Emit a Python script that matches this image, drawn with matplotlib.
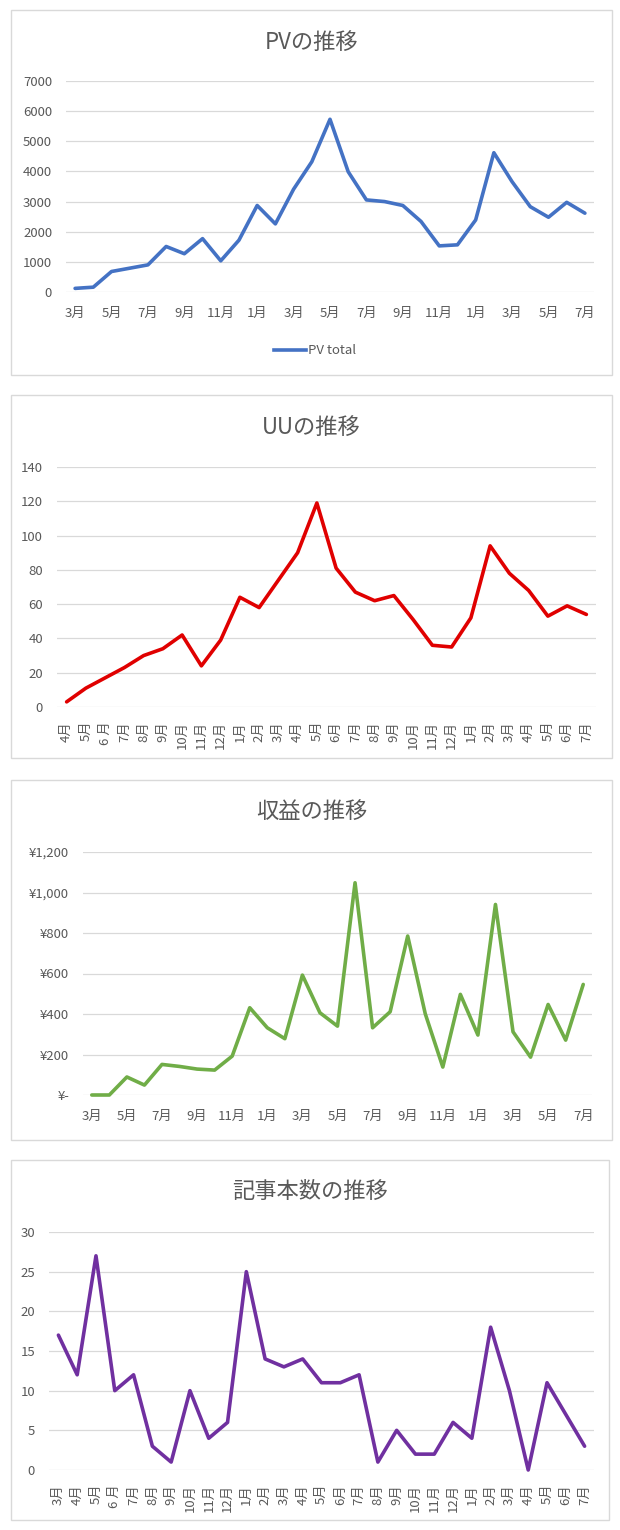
import numpy as np
import matplotlib
matplotlib.use("Agg")
import matplotlib.pyplot as plt
from matplotlib.patches import Rectangle
from matplotlib.lines import Line2D
from matplotlib.ticker import FuncFormatter

plt.rcParams['font.family'] = ['Noto Sans CJK JP', 'DejaVu Sans']

# months from March (year 1) to July (year 3)
months = (["3月", "4月", "5月", "6 月", "7月", "8月", "9月", "10月", "11月", "12月"]
          + ["1月", "2月", "3月", "4月", "5月", "6月", "7月", "8月", "9月", "10月", "11月", "12月"]
          + ["1月", "2月", "3月", "4月", "5月", "6月", "7月"])
months_plain = [m.replace(" ", "") for m in months]

pv = [120, 160, 680, 790, 900, 1510, 1270, 1770, 1035, 1720, 2870, 2260, 3410, 4320, 5730,
      3990, 3055, 3000, 2870, 2340, 1530, 1565, 2390, 4620, 3660, 2830, 2480, 2975, 2615]

uu_months = months[1:]
uu = [3, 11, 17, 23, 30, 34, 42, 24, 39, 64, 58, 74, 90, 119, 81, 67, 62, 65, 51, 36, 35,
      52, 94, 78, 68, 53, 59, 54]

revenue = [0, 0, 89, 49, 151, 141, 128, 123, 192, 431, 332, 278, 592, 406, 340, 1048, 332,
           411, 785, 401, 138, 497, 296, 941, 312, 187, 447, 271, 546]

articles = [17, 12, 27, 10, 12, 3, 1, 10, 4, 6, 25, 14, 13, 14, 11, 11, 12, 1, 5, 2, 2, 6, 4,
            18, 10, 0, 11, 7, 3]

W, H = 620, 1530
TXT = "#595959"
GRID = "#D9D9D9"

fig = plt.figure(figsize=(W / 100, H / 100), dpi=100)


def px_box(x0, y0, x1, y1):
    return [x0 / W, 1 - y1 / H, (x1 - x0) / W, (y1 - y0) / H]


def panel(box, plot, title, title_y, values, labels, color, ymax, ystep,
          every=1, rotate=False, fmt=None):
    b = px_box(*box)
    fig.patches.append(Rectangle((b[0], b[1]), b[2], b[3], transform=fig.transFigure,
                                 facecolor="none", edgecolor=GRID, lw=1.0, zorder=-1))
    fig.text((box[0] + box[2]) / 2 / W, 1 - title_y / H, title, ha="center", va="center",
             fontsize=16, color=TXT)
    ax = fig.add_axes(px_box(*plot))
    ax.set_facecolor("none")
    x = np.arange(len(values))
    ax.plot(x, values, color=color, lw=2.6, solid_joinstyle="round", solid_capstyle="round",
            zorder=3, clip_on=False)
    ax.set_xlim(-0.5, len(values) - 0.5)
    ax.set_ylim(0, ymax)
    ax.set_yticks(np.arange(0, ymax + 1, ystep))
    ax.grid(axis="y", color=GRID, lw=0.9)
    ax.set_axisbelow(True)
    for s in ax.spines.values():
        s.set_visible(False)
    ticks = x[::every]
    ax.set_xticks(ticks)
    if rotate:
        ax.set_xticklabels([labels[i] for i in ticks], rotation=90, fontsize=9.5, color=TXT)
        ax.tick_params(axis="x", length=0, pad=10)
    else:
        ax.set_xticklabels([labels[i] for i in ticks], fontsize=9.5, color=TXT)
        ax.tick_params(axis="x", length=0, pad=11)
    ax.tick_params(axis="y", length=0, pad=10, labelsize=9.5, labelcolor=TXT)
    if fmt is not None:
        ax.yaxis.set_major_formatter(FuncFormatter(fmt))
    return ax


ax1 = panel((11, 10, 612, 375), (66, 81, 594, 292), "PVの推移", 42, pv, months_plain,
            "#4472C4", 7000, 1000, every=2)
fig.legend(handles=[Line2D([], [], color="#4472C4", lw=2.6)], labels=["PV total"],
           loc="center", bbox_to_anchor=(315 / W, 1 - 351 / H), frameon=False,
           fontsize=9.5, labelcolor=TXT, handlelength=2.4, handletextpad=0.2)

ax2 = panel((11, 395, 612, 758), (57, 467, 596, 707), "UUの推移", 427, uu, uu_months,
            "#E00000", 140, 20, rotate=True)


def yen(v, pos):
    if v == 0:
        return "¥-"
    return "¥{:,.0f}".format(v)


ax3 = panel((11, 780, 612, 1140), (83, 852, 592, 1095), "収益の推移", 811, revenue,
            months_plain, "#70AD47", 1200, 200, every=2, fmt=yen)

ax4 = panel((11, 1160, 609, 1520), (49, 1232, 594, 1470), "記事本数の推移", 1191, articles,
            months, "#7030A0", 30, 5, rotate=True)

fig.savefig("out.png", dpi=100, facecolor="white")
